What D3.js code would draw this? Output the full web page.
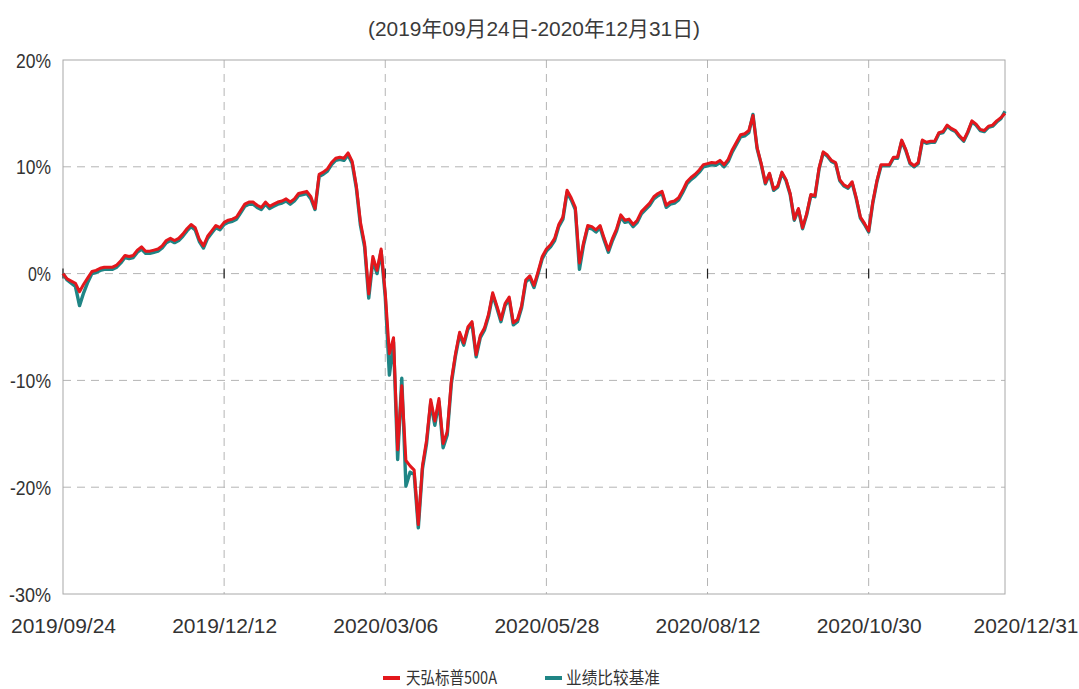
<!DOCTYPE html>
<html>
<head>
<meta charset="utf-8">
<script src="https://cdn.jsdelivr.net/npm/d3@7"></script>
<style>
  html, body { margin: 0; padding: 0; background: #fff; }
  svg { display: block; }
  text { font-family: "Liberation Sans", Arial, "Noto Sans CJK SC", sans-serif; fill: #333; }
</style>
</head>
<body>
<svg id="chart" width="1079" height="689"></svg>
<script>
// ---------------- data ----------------
const title = "(2019年09月24日-2020年12月31日)";
const seriesNames = ["天弘标普500A", "业绩比较基准"];
const tickIndex = [0, 39, 78, 117, 156, 195, 228];
const tickLabels = ["2019/09/24", "2019/12/12", "2020/03/06", "2020/05/28", "2020/08/12", "2020/10/30", "2020/12/31"];
const yTicks = [-30, -20, -10, 0, 10, 20];

const fund = [
0.0,-0.5,-0.7,-0.9,-1.7,-1.0,-0.4,0.2,0.3,0.5,
0.6,0.6,0.6,0.8,1.2,1.7,1.6,1.7,2.2,2.5,
2.1,2.1,2.2,2.3,2.6,3.1,3.3,3.1,3.3,3.7,
4.2,4.6,4.3,3.2,2.6,3.5,4.0,4.5,4.3,4.8,
5.0,5.1,5.3,5.9,6.5,6.7,6.7,6.4,6.2,6.7,
6.3,6.5,6.7,6.8,7.0,6.7,7.0,7.5,7.6,7.7,
7.2,6.1,9.3,9.5,9.8,10.4,10.8,10.9,10.8,11.3,
10.5,8.2,4.8,2.8,-1.9,1.6,0.3,2.3,-1.8,-7.5,
-6.0,-16.5,-10.5,-17.5,-18.0,-18.4,-23.5,-18.0,-15.6,-11.8,
-13.8,-11.7,-15.9,-14.8,-10.0,-7.5,-5.5,-6.5,-5.0,-4.5,
-7.6,-5.8,-5.1,-3.8,-1.8,-3.0,-4.3,-2.8,-2.2,-4.6,
-4.3,-3.0,-0.6,-0.2,-1.1,0.2,1.6,2.3,2.7,3.3,
4.6,5.3,7.8,7.1,6.2,1.0,2.9,4.5,4.4,4.1,
4.5,3.3,2.2,3.3,4.2,5.5,5.0,5.1,4.6,5.0,
5.8,6.2,6.6,7.2,7.5,7.7,6.4,6.7,6.8,7.1,
7.8,8.6,9.0,9.3,9.7,10.2,10.3,10.4,10.35,10.6,
10.2,10.7,11.6,12.3,13.0,13.1,13.4,14.8,11.8,10.3,
8.5,9.4,7.9,8.2,9.5,8.8,7.5,5.1,6.1,4.3,
5.6,7.4,7.3,9.9,11.4,11.1,10.6,10.4,8.8,8.3,
8.1,8.6,7.1,5.3,4.7,4.0,6.7,8.7,10.2,10.2,
10.2,10.9,10.9,12.5,11.6,10.4,10.1,10.4,12.5,12.3,
12.4,12.4,13.2,13.3,13.9,13.6,13.4,12.9,12.5,13.3,
14.3,14.0,13.5,13.4,13.8,13.9,14.3,14.6,15.0
];

const bench = [
0.0,-0.6,-0.9,-1.2,-3.0,-1.8,-0.8,0.0,0.1,0.3,
0.4,0.4,0.4,0.6,1.0,1.5,1.4,1.5,2.0,2.3,
1.9,1.9,2.0,2.1,2.4,2.9,3.1,2.9,3.1,3.5,
4.0,4.4,4.1,3.0,2.4,3.3,3.8,4.3,4.1,4.6,
4.8,4.9,5.1,5.7,6.3,6.5,6.5,6.2,6.0,6.5,
6.1,6.3,6.5,6.6,6.8,6.5,6.8,7.3,7.4,7.5,
7.0,6.0,9.1,9.3,9.6,10.2,10.6,10.7,10.6,11.1,
10.3,8.0,4.5,2.5,-2.3,1.2,0.0,2.1,-2.2,-9.5,
-6.4,-17.4,-9.8,-19.9,-18.6,-18.8,-23.8,-18.3,-15.9,-12.1,
-14.2,-12.0,-16.3,-15.1,-10.3,-7.7,-5.7,-6.7,-5.2,-4.7,
-7.8,-6.0,-5.3,-4.0,-2.0,-3.2,-4.5,-3.0,-2.4,-4.8,
-4.5,-3.2,-0.8,-0.4,-1.3,0.0,1.4,2.1,2.5,3.1,
4.4,5.1,7.6,6.9,6.0,0.4,2.7,4.3,4.2,3.9,
4.3,3.1,2.0,3.1,4.0,5.3,4.8,4.9,4.4,4.8,
5.6,6.0,6.4,7.0,7.3,7.5,6.2,6.5,6.6,6.9,
7.6,8.4,8.8,9.1,9.5,10.0,10.1,10.2,10.15,10.4,
10.0,10.5,11.4,12.1,12.8,12.9,13.2,14.9,11.7,10.2,
8.4,9.3,7.8,8.1,9.4,8.7,7.4,5.0,6.0,4.2,
5.5,7.3,7.2,9.8,11.3,11.0,10.5,10.3,8.7,8.2,
8.0,8.5,7.0,5.2,4.6,3.9,6.6,8.6,10.1,10.1,
10.1,10.8,10.8,12.4,11.5,10.3,10.0,10.3,12.4,12.2,
12.3,12.3,13.1,13.2,13.8,13.5,13.3,12.8,12.4,13.2,
14.2,13.9,13.4,13.3,13.7,13.8,14.2,14.5,15.2
];

const colors = ["#e3171c", "#1f8585"];

// ---------------- layout ----------------
const svg = d3.select("#chart");
const L = 63, R = 1005, T = 60, B = 594;
const x = d3.scaleLinear().domain([0, fund.length - 1]).range([L, R]);
const y = d3.scaleLinear().domain([-30, 20]).range([B, T]);

// title
svg.append("text")
  .attr("x", 534).attr("y", 36)
  .attr("text-anchor", "middle")
  .attr("font-size", 21)
  .attr("textLength", 332).attr("lengthAdjust", "spacingAndGlyphs")
  .style("fill", "#3a3a3a")
  .text(title);

// horizontal grid (dashed)
svg.append("g").selectAll("line")
  .data(yTicks.filter(v => v > -30 && v < 20))
  .join("line")
  .attr("x1", L).attr("x2", R)
  .attr("y1", d => y(d)).attr("y2", d => y(d))
  .attr("stroke", "#b4b4b4").attr("stroke-width", 1)
  .attr("stroke-dasharray", "8,6");

// vertical grid (dashed)
svg.append("g").selectAll("line")
  .data(tickIndex.filter(i => i > 0 && i < fund.length - 1))
  .join("line")
  .attr("x1", d => x(d)).attr("x2", d => x(d))
  .attr("y1", T).attr("y2", B)
  .attr("stroke", "#b4b4b4").attr("stroke-width", 1)
  .attr("stroke-dasharray", "8,6");

// border
svg.append("rect")
  .attr("x", L).attr("y", T).attr("width", R - L).attr("height", B - T)
  .attr("fill", "none").attr("stroke", "#a8a8a8").attr("stroke-width", 1);

// small dark marks at zero line
svg.append("g").selectAll("line")
  .data(tickIndex.slice(0, -1))
  .join("line")
  .attr("x1", d => x(d)).attr("x2", d => x(d))
  .attr("y1", y(0) - 5).attr("y2", y(0) + 5)
  .attr("stroke", "#222").attr("stroke-width", 1.2);

// y axis labels
const yAxis = d3.axisLeft(y).tickValues(yTicks).tickSize(0).tickPadding(0)
  .tickFormat(d => d + "%");
const gy = svg.append("g").attr("transform", `translate(${51},0)`).call(yAxis);
gy.select(".domain").remove();
const yWidths = {"-30": 42, "-20": 41, "-10": 41, "0": 23, "10": 35, "20": 35};
gy.selectAll("text")
  .attr("font-size", 20)
  .attr("dy", "0.35em")
  .attr("textLength", d => yWidths[String(d)])
  .attr("lengthAdjust", "spacingAndGlyphs")
  .style("fill", "#333")
  .style("font-family", "Liberation Sans, Arial, sans-serif");

// x axis labels
const xAxis = d3.axisBottom(x).tickValues(tickIndex).tickSize(0).tickPadding(0)
  .tickFormat((d, i) => tickLabels[i]);
const gx = svg.append("g").attr("transform", `translate(0,${B})`).call(xAxis);
gx.select(".domain").remove();
gx.selectAll("text")
  .attr("font-size", 20)
  .attr("y", 39).attr("dy", 0)
  .attr("textLength", 105)
  .attr("lengthAdjust", "spacingAndGlyphs")
  .style("fill", "#333")
  .style("font-family", "Liberation Sans, Arial, sans-serif");
gx.selectAll(".tick").filter((d, i) => i === tickIndex.length - 1)
  .select("text")
  .attr("text-anchor", "end")
  .attr("x", 1078 - x(tickIndex[tickIndex.length - 1]));

// lines
const line = d3.line().x((d, i) => x(i)).y(d => y(d)).curve(d3.curveLinear);
svg.append("path").datum(bench)
  .attr("d", line).attr("fill", "none")
  .attr("stroke", colors[1]).attr("stroke-width", 3.4).attr("stroke-linejoin", "round");
svg.append("path").datum(fund)
  .attr("d", line).attr("fill", "none")
  .attr("stroke", colors[0]).attr("stroke-width", 3.0).attr("stroke-linejoin", "round");

// legend
const legend = [
  {name: seriesNames[0], color: colors[0], sx: 383, tx: 406, w: 91},
  {name: seriesNames[1], color: colors[1], sx: 545, tx: 566, w: 94}
];
const lg = svg.append("g");
legend.forEach(l => {
  lg.append("rect").attr("x", l.sx).attr("y", 676).attr("width", 17).attr("height", 4).attr("fill", l.color);
  lg.append("text").attr("x", l.tx).attr("y", 684)
    .attr("font-size", 17)
    .attr("textLength", l.w).attr("lengthAdjust", "spacingAndGlyphs")
    .style("font-family", "Noto Sans CJK SC, sans-serif")
    .style("fill", "#333")
    .text(l.name);
});
</script>
</body>
</html>
